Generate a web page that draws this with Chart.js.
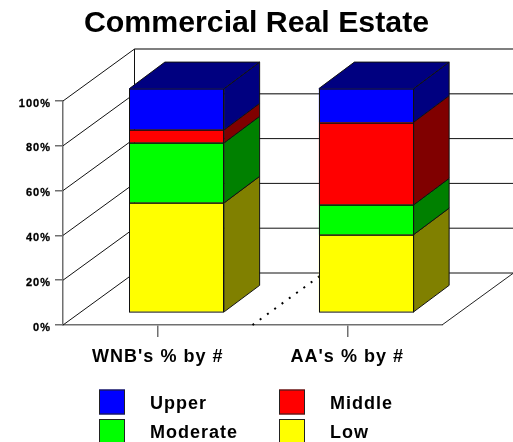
<!DOCTYPE html>
<html>
<head>
<meta charset="utf-8">
<title>Commercial Real Estate</title>
<script src="https://cdn.jsdelivr.net/npm/chart.js@4"></script>
<style>html,body{margin:0;padding:0;background:#fff;overflow:hidden}canvas{display:block}</style>
</head>
<body>
<canvas id="c" width="513" height="442"></canvas>
<script>
const chartTitle = 'Commercial Real Estate';
const categories = ["WNB's % by #", "AA's % by #"];
const lowValues = [49, 34.8];
const moderateValues = [26.8, 13.3];
const middleValues = [5.8, 36.9];
const upperValues = [18.4, 15];
const legendOrder = ["Upper", "Middle", "Moderate", "Low"];

// Oblique projection used for the box look
const WALL = { dx: 71.5, dy: -52 };
const BAR_SHIFT = { dx: 19, dy: -12.4 };
const BAR_DEPTH = { dx: 35.5, dy: -26.5 };
const FONT = '"Liberation Sans", Arial, sans-serif';

function poly(ctx, pts, fill, stroke) {
  ctx.beginPath();
  pts.forEach((p, i) => i ? ctx.lineTo(p[0], p[1]) : ctx.moveTo(p[0], p[1]));
  ctx.closePath();
  if (fill) { ctx.fillStyle = fill; ctx.fill(); }
  if (stroke) { ctx.strokeStyle = stroke; ctx.lineWidth = 1; ctx.stroke(); }
}
function seg(ctx, x0, y0, x1, y1, color, width, dash) {
  ctx.beginPath();
  ctx.moveTo(x0, y0); ctx.lineTo(x1, y1);
  ctx.strokeStyle = color; ctx.lineWidth = width || 1;
  ctx.setLineDash(dash || []);
  ctx.stroke();
  ctx.setLineDash([]);
}

const box3d = {
  id: 'box3d',
  beforeDraw(chart) {
    chart.ctx.letterSpacing = '1px';
  },
  beforeDatasetsDraw(chart) {
    const { ctx, chartArea: a, scales: { x, y } } = chart;
    ctx.save();
    // left wall and back wall grid lines
    y.ticks.forEach(t => {
      const py = y.getPixelForValue(t.value);
      seg(ctx, a.left, py, a.left + WALL.dx, py + WALL.dy, '#111');
      seg(ctx, a.left + WALL.dx, py + WALL.dy, a.right + WALL.dx, py + WALL.dy, t.value >= 80 ? '#555' : '#111', t.value >= 80 ? 1.4 : 1);
    });
    seg(ctx, a.left + WALL.dx, a.top + WALL.dy, a.left + WALL.dx, a.bottom + WALL.dy, '#111');
    seg(ctx, a.right, a.bottom, a.right + WALL.dx, a.bottom + WALL.dy, '#222');
    // dotted divider on the floor between the two categories
    const mid = (x.getPixelForTick(0) + x.getPixelForTick(1)) / 2;
    seg(ctx, mid, a.bottom, mid + WALL.dx, a.bottom + WALL.dy, '#000', 2, [2, 7]);

    // side and top faces of each stacked column
    ctx.translate(BAR_SHIFT.dx, BAR_SHIFT.dy);
    chart.data.datasets.forEach((ds, di) => {
      chart.getDatasetMeta(di).data.forEach(bar => {
        const r = bar.x + bar.width / 2, l = bar.x - bar.width / 2;
        const d = BAR_DEPTH;
        poly(ctx, [[r, bar.base], [r + d.dx, bar.base + d.dy], [r + d.dx, bar.y + d.dy], [r, bar.y]], ds.sideColor, '#111');
        if (di === chart.data.datasets.length - 1) {
          poly(ctx, [[l, bar.y], [l + d.dx, bar.y + d.dy], [r + d.dx, bar.y + d.dy], [r, bar.y]], ds.sideColor, '#111');
        }
      });
    });
    ctx.restore();
    // front faces are drawn by the library in the same shifted frame
    ctx.save();
    ctx.translate(BAR_SHIFT.dx, BAR_SHIFT.dy);
  },
  afterDatasetsDraw(chart) {
    const ctx = chart.ctx;
    // crisp outline for each front face, a pixel inside its right edge
    chart.data.datasets.forEach((ds, di) => {
      chart.getDatasetMeta(di).data.forEach(bar => {
        const l = Math.round(bar.x - bar.width / 2), r = Math.round(bar.x + bar.width / 2);
        const t = Math.round(bar.y), b = Math.round(bar.base);
        ctx.strokeStyle = '#111';
        ctx.lineWidth = 1;
        ctx.strokeRect(l + .5, t + .5, r - l - 1, b - t);
      });
    });
    ctx.restore();
  },
  afterDraw(chart) {
    const ctx = chart.ctx;
    const cols = [99, 279], rows = [389.5, 419], textGap = 51;
    ctx.save();
    ctx.letterSpacing = '0px';
    ctx.font = 'bold 30.3px ' + FONT;
    ctx.textAlign = 'center';
    ctx.textBaseline = 'middle';
    ctx.fillStyle = '#000';
    ctx.fillText(chartTitle, 256.5, 24);
    ctx.letterSpacing = '1px';
    ctx.font = 'bold 18px ' + FONT;
    ctx.textAlign = 'left';
    legendOrder.forEach((name, i) => {
      const ds = chart.data.datasets.find(d => d.label === name);
      const bx = cols[i % 2], by = rows[Math.floor(i / 2)];
      ctx.fillStyle = ds.backgroundColor;
      ctx.fillRect(bx, by, 26, 25);
      ctx.strokeStyle = '#222';
      ctx.lineWidth = 1;
      ctx.strokeRect(bx + .5, by + .5, 25, 24);
      ctx.fillStyle = '#000';
      ctx.fillText(name, bx + textGap, by + 14.5);
    });
    ctx.restore();
  }
};

new Chart(document.getElementById('c'), {
  type: 'bar',
  data: {
    labels: categories,
    datasets: [
      { label: 'Low', data: lowValues, backgroundColor: '#ffff00', sideColor: '#808000' },
      { label: 'Moderate', data: moderateValues, backgroundColor: '#00ff00', sideColor: '#008000' },
      { label: 'Middle', data: middleValues, backgroundColor: '#ff0000', sideColor: '#800000' },
      { label: 'Upper', data: upperValues, backgroundColor: '#0000ff', sideColor: '#000080' }
    ].map(d => Object.assign(d, {
      borderWidth: 0,
      categoryPercentage: 1, barPercentage: 0.5, clip: false
    }))
  },
  options: {
    responsive: false,
    animation: false,
    layout: { padding: { right: 71, left: 0, top: 101, bottom: 0 } },
    plugins: {
      legend: { display: false },
      tooltip: { enabled: false },
      title: { display: false }
    },
    scales: {
      x: {
        stacked: true,
        afterFit(s) { s.height = 117; },
        grid: { offset: false, drawOnChartArea: false, tickLength: 12, color: '#707070', lineWidth: 1.5 },
        border: { color: '#707070', width: 1.5 },
        ticks: { color: '#000', padding: 9, maxRotation: 0, font: { family: FONT, size: 18, weight: 'bold' } }
      },
      y: {
        stacked: true,
        min: 0, max: 100,
        afterFit(s) { s.width = 63; },
        grid: { drawOnChartArea: false, tickLength: 8, color: '#707070', lineWidth: 1.5 },
        border: { color: '#707070', width: 1.5 },
        ticks: { stepSize: 20, color: '#000', padding: 4, labelOffset: 2.5, textStrokeColor: '#000', textStrokeWidth: 0.3, callback: v => v + '%', font: { family: FONT, size: 11, weight: 'bold' } }
      }
    }
  },
  plugins: [box3d]
});
</script>
</body>
</html>
